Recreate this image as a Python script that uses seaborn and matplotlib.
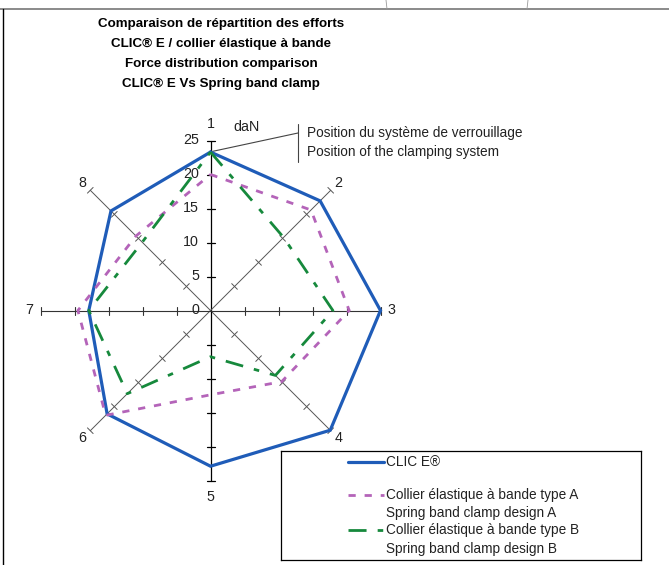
import numpy as np
import matplotlib
matplotlib.use("Agg")
import matplotlib.pyplot as plt
from matplotlib.lines import Line2D
import seaborn as sns

# spokes of the radar, clockwise from the top
spokes = ["1", "2", "3", "4", "5", "6", "7", "8"]
# force in daN read on each spoke
clic_e = [23.3, 22.8, 25.0, 24.9, 22.9, 21.5, 17.9, 20.7]
type_a = [20.0, 20.9, 20.4, 14.8, 12.4, 21.8, 19.5, 15.5]
type_b = [23.3, 15.2, 18.0, 13.5, 6.8, 17.3, 17.9, 14.2]
radial_ticks = [0, 5, 10, 15, 20, 25]
r_max = 25

title_lines = [
    "Comparaison de répartition des efforts",
    "CLIC® E / collier élastique à bande",
    "Force distribution comparison",
    "CLIC® E Vs Spring band clamp",
]
legend_labels = [
    ["CLIC E®"],
    ["Collier élastique à bande type A", "Spring band clamp design A"],
    ["Collier élastique à bande type B", "Spring band clamp design B"],
]
clamp_note = ["Position du système de verrouillage", "Position of the clamping system"]

W, H = 669, 565
CX, CY, SCALE = 210.5, 310.5, 6.8   # pixel centre and pixels per daN

sns.set_style("white")
plt.rcParams["font.family"] = ["Liberation Sans", "DejaVu Sans"]

fig = plt.figure(figsize=(W / 100, H / 100), dpi=100)
ax = fig.add_axes([0, 0, 1, 1])
ax.set_xlim(-CX / SCALE, (W - CX) / SCALE)
ax.set_ylim(-(H - CY) / SCALE, CY / SCALE)
ax.axis("off")

angles = np.deg2rad(np.arange(len(spokes)) * 45.0)


def to_xy(values):
    v = np.asarray(values, dtype=float)
    return v * np.sin(angles), v * np.cos(angles)


# spokes and their tick marks
half = 4 / SCALE
for i, th in enumerate(angles):
    ux, uy = np.sin(th), np.cos(th)
    if i in (0, 4):
        col, lw = "black", 0.9
    elif i in (2, 6):
        col, lw = "#333333", 0.8
    else:
        col, lw = "#555555", 0.7
    ax.plot([0, r_max * ux], [0, r_max * uy], color=col, lw=lw, zorder=1)
    px_, py_ = -uy, ux
    for t in radial_ticks[1:]:
        ax.plot([t * ux - half * px_, t * ux + half * px_],
                [t * uy - half * py_, t * uy + half * py_],
                color=col, lw=lw, zorder=1)
    lr = 27.4 if i in (0, 4) else 26.6
    ax.text(lr * ux, lr * uy, spokes[i], ha="center", va="center",
            fontsize=10.3, color="#222222")

for t in radial_ticks:
    ax.text(-1.7, t, str(t), ha="right", va="center", fontsize=10.3, color="#222222")
ax.text(5.3, 27.0, "daN", ha="center", va="center", fontsize=10.3, color="#222222")

# series
series = [
    (clic_e, "#1f5cb8", 2.3, None),
    (type_a, "#b464b9", 2.0, (2.6, 3.2)),
    (type_b, "#16893c", 2.0, (6.5, 4.0, 2.0, 4.0)),
]
for vals, col, lw, dash in series:
    xs, ys = to_xy(vals)
    xs, ys = np.r_[xs, xs[0]], np.r_[ys, ys[0]]
    n0 = len(ax.lines)
    sns.lineplot(x=xs, y=ys, sort=False, estimator=None, color=col, lw=lw, ax=ax, zorder=3)
    line = ax.lines[n0]
    if dash is not None:
        line.set_dashes(dash)
    line.set_solid_joinstyle("miter")

# note pointing at the clamping system
ax.plot([0.3, (298 - CX) / SCALE], [clic_e[0] + 0.1, (CY - 133) / SCALE], color="#444444", lw=0.8)
ax.plot([(298 - CX) / SCALE] * 2, [(CY - 124) / SCALE, (CY - 162) / SCALE], color="#444444", lw=0.8)
for k, txt in enumerate(clamp_note):
    ax.text((307 - CX) / SCALE, (CY - 133 - 19 * k) / SCALE, txt, ha="left", va="center",
            fontsize=9.8, color="#222222")

# title
for k, txt in enumerate(title_lines):
    fig.text(221 / W, 1 - (24 + 20 * k) / H, txt, ha="center", va="center",
             fontsize=9.6, fontweight="bold", color="black")

# legend box
lax = fig.add_axes([281 / W, 1 - 560 / H, 360 / W, 109 / H])
lax.set_xlim(0, 360)
lax.set_ylim(109, 0)
lax.set_xticks([])
lax.set_yticks([])
for sp in lax.spines.values():
    sp.set_color("black")
    sp.set_linewidth(0.9)
entry_y = [11, 44, 79]
for (vals, col, lw, dash), labels, ly in zip(series, legend_labels, entry_y):
    h = Line2D([67, 103], [ly, ly], color=col, lw=lw)
    if dash is not None:
        h.set_dashes(dash)
    lax.add_line(h)
    for k, txt in enumerate(labels):
        lax.text(105, ly + 18.5 * k, txt, ha="left", va="center", fontsize=9.8, color="#222222")

# outer frame of the sheet
fig.add_artist(Line2D([0, 1], [1 - 9 / H] * 2, color="#777777", lw=1.2))
fig.add_artist(Line2D([3 / W] * 2, [0, 1 - 9 / H], color="black", lw=1.0))
fig.add_artist(Line2D([386 / W, 387 / W], [1, 1 - 9 / H], color="#999999", lw=0.6))
fig.add_artist(Line2D([528 / W, 527 / W], [1, 1 - 9 / H], color="#999999", lw=0.6))

fig.savefig("out.png", dpi=100)
